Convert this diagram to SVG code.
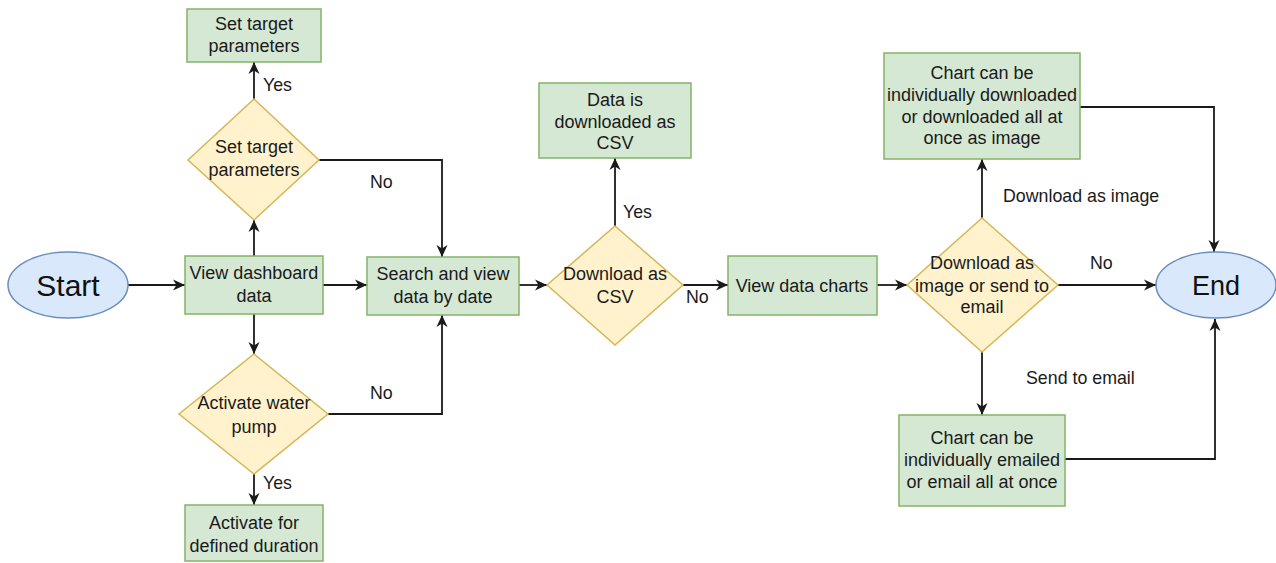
<svg xmlns="http://www.w3.org/2000/svg" width="1276" height="563" viewBox="0 0 1276 563">
  <style>
    .proc { fill: #d5e8d4; stroke: #82b366; stroke-width: 1.5; }
    .dec { fill: #fff2cc; stroke: #d6b656; stroke-width: 1.5; }
    .term { fill: #dae8fc; stroke: #6c8ebf; stroke-width: 1.5; }
    .lbl { font-family: "Liberation Sans", Arial, sans-serif; font-size: 18px; fill: #1a1a1a; text-anchor: middle; }
    .big { font-family: "Liberation Sans", Arial, sans-serif; fill: #111; text-anchor: middle; }
    .edge { font-family: "Liberation Sans", Arial, sans-serif; font-size: 17.8px; fill: #1a1a1a; }
    .conn { fill: none; stroke: #1a1a1a; stroke-width: 1.8; marker-end: url(#arrow); }
  </style>
  <defs>
    <!-- classic notched arrowhead shared by all connectors -->
    <marker id="arrow" markerUnits="userSpaceOnUse" markerWidth="14" markerHeight="12" refX="12" refY="6" orient="auto">
      <path d="M0,0.5 L12,6 L0,11.5 L3.5,6 Z" fill="#1a1a1a"/>
    </marker>
  </defs>
  <rect width="1276" height="563" fill="#ffffff"/>

  <!-- connectors -->
  <g id="connectors">
    <path class="conn" d="M128,285 L185,285"/>
    <path class="conn" d="M254,256 L254,220"/>
    <path class="conn" d="M254,99 L254,62"/>
    <path class="conn" d="M319,160 L442,160 L442,257"/>
    <path class="conn" d="M323,285 L367,285"/>
    <path class="conn" d="M254,314 L254,354"/>
    <path class="conn" d="M254,474 L254,505"/>
    <path class="conn" d="M328,414 L442,414 L442,315"/>
    <path class="conn" d="M519,285 L547,285"/>
    <path class="conn" d="M615,226 L615,158"/>
    <path class="conn" d="M683,285 L728,285"/>
    <path class="conn" d="M877,285 L907,285"/>
    <path class="conn" d="M982,218 L982,159"/>
    <path class="conn" d="M1058,285 L1156,285"/>
    <path class="conn" d="M1080,107 L1214,107 L1214,252"/>
    <path class="conn" d="M982,352 L982,415"/>
    <path class="conn" d="M1065,459 L1215,459 L1215,319"/>

    <text class="edge" x="263" y="91">Yes</text>
    <text class="edge" x="370" y="188">No</text>
    <text class="edge" x="263" y="489">Yes</text>
    <text class="edge" x="370" y="399">No</text>
    <text class="edge" x="623" y="218">Yes</text>
    <text class="edge" x="686" y="303">No</text>
    <text class="edge" x="1003" y="202">Download as image</text>
    <text class="edge" x="1090" y="269">No</text>
    <text class="edge" x="1026" y="384">Send to email</text>
  </g>

  <g id="start">
    <ellipse class="term" cx="68" cy="285" rx="60" ry="33"/>
    <text class="big" x="68" y="296" font-size="30">Start</text>
  </g>

  <g id="view-dashboard">
    <rect class="proc" x="185" y="256" width="138" height="58"/>
    <text class="lbl" x="254" y="279">View dashboard</text>
    <text class="lbl" x="254" y="302">data</text>
  </g>

  <g id="set-target-decision">
    <polygon class="dec" points="254,99 319,160 254,220 188,160"/>
    <text class="lbl" x="254" y="153">Set target</text>
    <text class="lbl" x="254" y="176">parameters</text>
  </g>

  <g id="set-target-action">
    <rect class="proc" x="187" y="9" width="134" height="53"/>
    <text class="lbl" x="254" y="30">Set target</text>
    <text class="lbl" x="254" y="52">parameters</text>
  </g>

  <g id="pump-decision">
    <polygon class="dec" points="254,354 328,414 254,474 179,414"/>
    <text class="lbl" x="254" y="409">Activate water</text>
    <text class="lbl" x="254" y="433">pump</text>
  </g>

  <g id="pump-action">
    <rect class="proc" x="185" y="505" width="138" height="56"/>
    <text class="lbl" x="254" y="529">Activate for</text>
    <text class="lbl" x="254" y="552">defined duration</text>
  </g>

  <g id="search-by-date">
    <rect class="proc" x="367" y="257" width="152" height="58"/>
    <text class="lbl" x="443" y="280">Search and view</text>
    <text class="lbl" x="443" y="303">data by date</text>
  </g>

  <g id="csv-decision">
    <polygon class="dec" points="615,226 683,285 615,345 547,285"/>
    <text class="lbl" x="615" y="280">Download as</text>
    <text class="lbl" x="615" y="303">CSV</text>
  </g>

  <g id="csv-download">
    <rect class="proc" x="539" y="83" width="152" height="75"/>
    <text class="lbl" x="615" y="106">Data is</text>
    <text class="lbl" x="615" y="128">downloaded as</text>
    <text class="lbl" x="615" y="149">CSV</text>
  </g>

  <g id="view-charts">
    <rect class="proc" x="728" y="256" width="149" height="59"/>
    <text class="lbl" x="802" y="292">View data charts</text>
  </g>

  <g id="export-decision">
    <polygon class="dec" points="982,218 1058,285 982,352 907,285"/>
    <text class="lbl" x="982" y="269">Download as</text>
    <text class="lbl" x="982" y="292">image or send to</text>
    <text class="lbl" x="982" y="313">email</text>
  </g>

  <g id="image-download">
    <rect class="proc" x="884" y="53" width="196" height="106"/>
    <text class="lbl" x="982" y="79">Chart can be</text>
    <text class="lbl" x="982" y="101">individually downloaded</text>
    <text class="lbl" x="982" y="123">or downloaded all at</text>
    <text class="lbl" x="982" y="144">once as image</text>
  </g>

  <g id="email-send">
    <rect class="proc" x="899" y="415" width="166" height="91"/>
    <text class="lbl" x="982" y="444">Chart can be</text>
    <text class="lbl" x="982" y="466">individually emailed</text>
    <text class="lbl" x="982" y="488">or email all at once</text>
  </g>

  <g id="end">
    <ellipse class="term" cx="1216" cy="285" rx="60" ry="33"/>
    <text class="big" x="1216" y="295" font-size="27">End</text>
  </g>
</svg>
